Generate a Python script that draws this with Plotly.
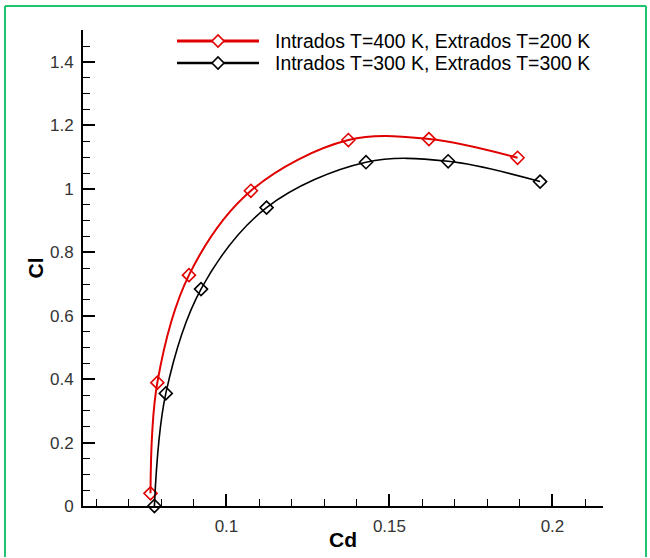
import plotly.graph_objects as go

# ---- data ----
series_names = ["Intrados T=400 K, Extrados T=200 K",
                "Intrados T=300 K, Extrados T=300 K"]
red_cd = [0.0767, 0.0788, 0.0885, 0.1075, 0.1374, 0.1621, 0.1893]
red_cl = [0.040, 0.389, 0.728, 0.994, 1.154, 1.157, 1.098]
black_cd = [0.0779, 0.0814, 0.0922, 0.1123, 0.1428, 0.1680, 0.1962]
black_cl = [0.000, 0.355, 0.684, 0.941, 1.084, 1.087, 1.023]
x_range = [0.056, 0.2155]
y_range = [0.0, 1.501]

RED = "#e00000"
BLACK = "#000000"
GREEN = "#1ec46e"
FONT = "Liberation Sans, Arial, sans-serif"

W, H = 650, 558
L, R, T, B = 83, 47, 30, 52
PW, PH = W - L - R, H - T - B


def px_x(px):
    return (px - L) / PW


def px_y(py):
    return (H - B - py) / PH


fig = go.Figure()
for cd, cl, col, lw, name in [(red_cd, red_cl, RED, 2, series_names[0]),
                              (black_cd, black_cl, BLACK, 1.6, series_names[1])]:
    fig.add_trace(go.Scatter(
        x=cd, y=cl, mode="lines+markers", name=name,
        line=dict(color=col, width=lw, shape="spline", smoothing=1.0),
        marker=dict(symbol="diamond-open", size=10, color=col,
                    line=dict(color=col, width=1.6)),
        cliponaxis=False, showlegend=False))

axis_common = dict(
    showline=True, linecolor="black", linewidth=2, mirror=False,
    showgrid=False, zeroline=False,
    ticks="inside", ticklen=12, tickwidth=2, tickcolor="black",
    tickfont=dict(family=FONT, size=17, color="#333333"),
)

fig.update_xaxes(range=x_range, tick0=0, dtick=0.05,
                 minor=dict(ticks="inside", ticklen=7, tickwidth=1,
                            tickcolor="black", dtick=0.01, tick0=0),
                 ticklabelstandoff=4, **axis_common)
fig.update_yaxes(range=y_range, tick0=0, dtick=0.2,
                 minor=dict(ticks="inside", ticklen=7, tickwidth=1,
                            tickcolor="black", dtick=0.05, tick0=0),
                 ticklabelstandoff=4, **axis_common)

shapes = []
annotations = []
# manual legend (long sample lines as in the reference)
legend_rows = [(41, RED, 3, series_names[0]), (63, BLACK, 2.5, series_names[1])]
for py, col, lw, name in legend_rows:
    shapes.append(dict(type="line", xref="paper", yref="paper",
                       x0=px_x(177), x1=px_x(259), y0=px_y(py), y1=px_y(py),
                       line=dict(color=col, width=lw)))
    shapes.append(dict(type="path", xref="paper", yref="paper",
                       xsizemode="pixel", ysizemode="pixel",
                       xanchor=px_x(218), yanchor=px_y(py),
                       path="M -6 0 L 0 6 L 6 0 L 0 -6 Z",
                       line=dict(color=col, width=1.6), fillcolor="white"))
    annotations.append(dict(xref="paper", yref="paper", x=px_x(273), y=px_y(py),
                            xanchor="left", yanchor="middle", showarrow=False,
                            text=name, font=dict(family=FONT, size=19.4, color="black")))

# axis titles
annotations.append(dict(xref="paper", yref="paper", x=0.5, y=px_y(539),
                        xanchor="center", yanchor="middle", showarrow=False,
                        text="<b>Cd</b>", font=dict(family=FONT, size=21, color="black")))
annotations.append(dict(xref="paper", yref="paper", x=px_x(34.5), y=0.5,
                        xanchor="center", yanchor="middle", showarrow=False, textangle=-90,
                        text="<b>Cl</b>", font=dict(family=FONT, size=21, color="black")))

# green frame
for (ax0, ay0, ax1, ay1) in [(5, 6, 646, 6), (5, 6, 5, 557), (646, 6, 646, 557)]:
    shapes.append(dict(type="line", xref="paper", yref="paper",
                       x0=px_x(ax0), y0=px_y(ay0), x1=px_x(ax1), y1=px_y(ay1),
                       line=dict(color=GREEN, width=2)))

fig.update_layout(width=W, height=H, margin=dict(l=L, r=R, t=T, b=B),
                  paper_bgcolor="white", plot_bgcolor="white",
                  shapes=shapes, annotations=annotations,
                  font=dict(family=FONT))

fig.write_html("out.html")
